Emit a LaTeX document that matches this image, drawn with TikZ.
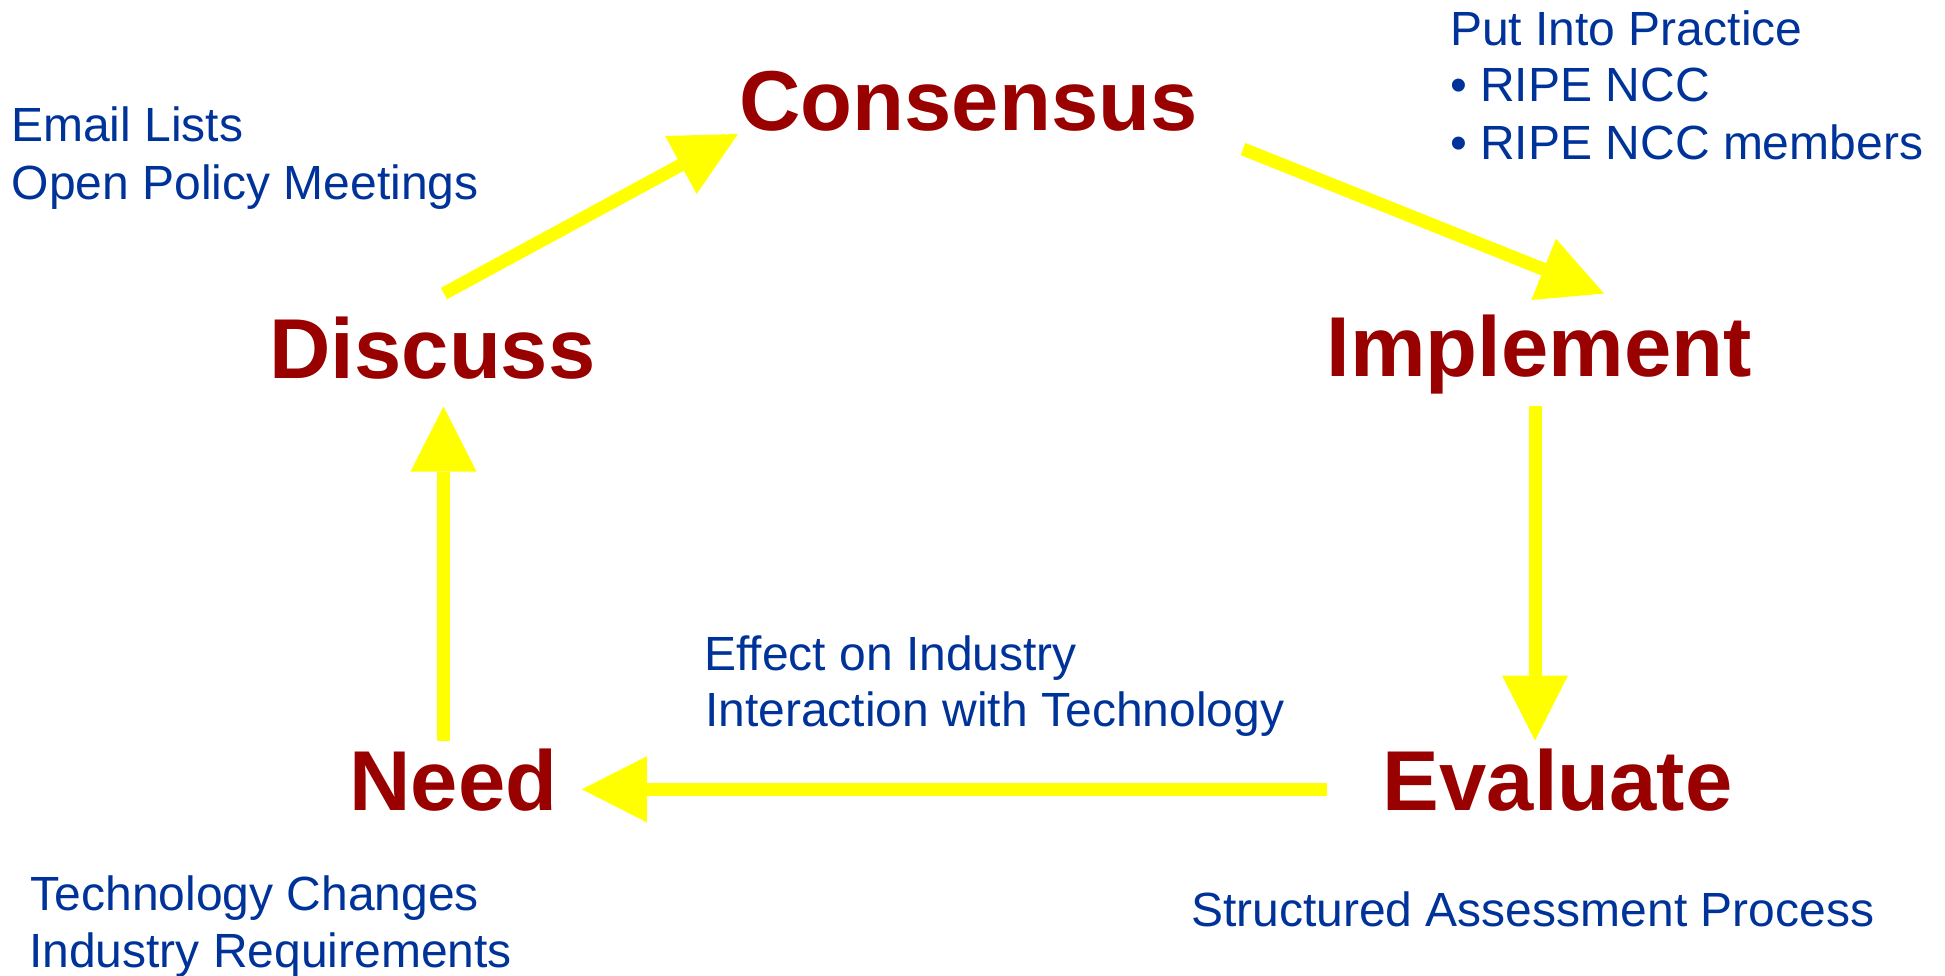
\documentclass[tikz,border=0pt]{standalone}
\usepackage{fontspec}
\setmainfont{Liberation Sans}
\usetikzlibrary{arrows.meta}
\definecolor{stepred}{HTML}{990000}
\definecolor{noteblue}{HTML}{003399}
\definecolor{arrowyellow}{HTML}{FFFF00}
\begin{document}
\begin{tikzpicture}[x=1pt,y=-1pt,
  stage/.style={inner sep=0pt, anchor=base, text=stepred, font=\fontsize{85}{100}\selectfont\bfseries},
  note/.style={inner sep=0pt, anchor=base west, text=noteblue, font=\fontsize{48}{57}\selectfont},
  flow/.style={draw=arrowyellow, line width=13pt, line cap=butt,
    -{Triangle[length=65pt,width=66pt,line width=0pt,fill=arrowyellow]}}]
\useasboundingbox (0,0) rectangle (1945,975);

% stages
\node[stage] (consensus) at (968.5,130) {Consensus};
\node[stage] (implement) at (1539,376) {Implement};
\node[stage] (discuss) at (432.5,378) {Discuss};
\node[stage] (need) at (453.5,810.5) {Need};
\node[stage] (evaluate) at (1557.7,810) {Evaluate};

% notes
\node[note] (email) at (11,141.7) {Email Lists};
\node[note] (opm) at (11.5,199) {Open Policy Meetings};
\node[note] (practice) at (1450,45) {Put Into Practice};
\node[note] (ncc) at (1450,101.7) {• RIPE NCC};
\node[note] (members) at (1450,159.3) {• RIPE NCC members};
\node[note] (effect) at (704,670) {Effect on Industry};
\node[note] (interact) at (705,726.5) {Interaction with Technology};
\node[note] (techch) at (30.5,910) {Technology Changes};
\node[note] (indreq) at (29,967) {Industry Requirements};
\node[note] (sap) at (1191,926) {Structured Assessment Process};

% connector ends
\coordinate (need-out) at (443.5,741);
\coordinate (discuss-in) at (443.5,406.5);
\coordinate (discuss-out) at (444,293.5);
\coordinate (consensus-in) at (738,134);
\coordinate (consensus-out) at (1243,149);
\coordinate (implement-in) at (1604,293.5);
\coordinate (implement-out) at (1535,405.6);
\coordinate (evaluate-in) at (1535,740.5);
\coordinate (evaluate-out) at (1327,789.3);
\coordinate (need-in) at (581.8,789.3);

\draw[flow] (need-out) -- (discuss-in);
\draw[flow] (discuss-out) -- (consensus-in);
\draw[flow] (consensus-out) -- (implement-in);
\draw[flow] (implement-out) -- (evaluate-in);
\draw[flow] (evaluate-out) -- (need-in);
\end{tikzpicture}
\end{document}
